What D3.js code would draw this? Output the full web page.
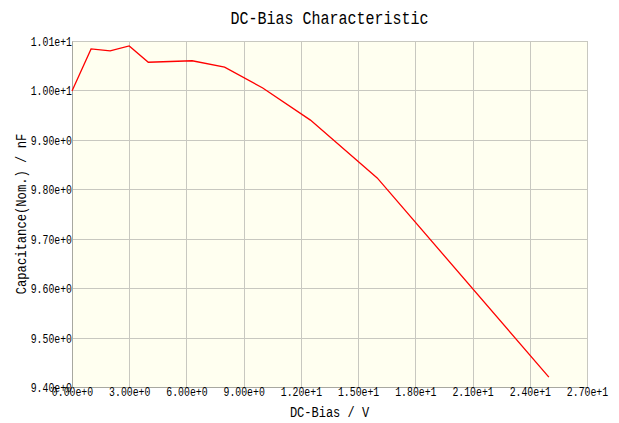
<!DOCTYPE html>
<html>
<head>
<meta charset="utf-8">
<script src="https://cdn.jsdelivr.net/npm/d3@7"></script>
<style>
  body { margin: 0; background: #ffffff; }
  text { font-family: "Liberation Mono", "DejaVu Sans Mono", monospace; fill: #000; }
</style>
</head>
<body>
<svg id="chart"></svg>
<script>
// DC bias (V) vs capacitance (nF)
const biasV = [0, 1, 2, 3, 4, 6.3, 8, 10, 12.5, 16, 25];
const capNF = [9.999, 10.084, 10.080, 10.090, 10.057, 10.060, 10.047, 10.005, 9.940, 9.823, 9.420];
const xTicks = [0, 3, 6, 9, 12, 15, 18, 21, 24, 27];
const yTicks = [9.4, 9.5, 9.6, 9.7, 9.8, 9.9, 10.0, 10.1];

const width = 619, height = 423;
const margin = {top: 41, right: 32, bottom: 36, left: 72};
const innerW = width - margin.left - margin.right;
const innerH = height - margin.top - margin.bottom;

// squeeze monospace text into narrow cells like the original gothic font
function halfWidth(sel, size, cell) {
  sel.each(function() {
    const t = d3.select(this);
    const n = t.text().length;
    t.attr('font-size', size)
     .attr('textLength', n * (cell || size * 0.5))
     .attr('lengthAdjust', 'spacingAndGlyphs');
  });
}

const svg = d3.select('#chart').attr('width', width).attr('height', height);
const chart = svg.append('g').attr('transform', `translate(${margin.left},${margin.top})`);

const xscale = d3.scaleLinear().domain([0, 27]).range([0, innerW]);
const yscale = d3.scaleLinear().domain([9.4, 10.1]).range([innerH, 0]);

chart.append('rect')
  .attr('width', innerW).attr('height', innerH)
  .attr('fill', '#fffff0');

// grid
chart.append('g').selectAll('line').data(xTicks).join('line')
  .attr('x1', d => Math.round(xscale(d)) + 0.5).attr('x2', d => Math.round(xscale(d)) + 0.5)
  .attr('y1', 0).attr('y2', innerH)
  .attr('stroke', '#c8c8c0').attr('stroke-width', 1);
chart.append('g').selectAll('line').data(yTicks).join('line')
  .attr('y1', d => Math.round(yscale(d)) + 0.5).attr('y2', d => Math.round(yscale(d)) + 0.5)
  .attr('x1', 0).attr('x2', innerW)
  .attr('stroke', '#c8c8c0').attr('stroke-width', 1);

// axes
const xaxis = d3.axisBottom(xscale).tickValues(xTicks).tickSize(0).tickPadding(4)
  .tickFormat(d => d.toExponential(2));
const yaxis = d3.axisLeft(yscale).tickValues(yTicks).tickSize(0).tickPadding(0)
  .tickFormat(d => d.toExponential(2));

const xg = chart.append('g').attr('transform', `translate(0,${innerH})`).call(xaxis);
const yg = chart.append('g').call(yaxis);
[xg, yg].forEach(g => {
  g.select('.domain').attr('stroke', '#a8a8a0');
  g.selectAll('text').call(halfWidth, 13, 5.9);
});
xg.selectAll('text').attr('dy', '0.4em');
yg.selectAll('text').attr('dy', '0.35em');

// curve
const line = d3.line()
  .x(d => xscale(d[0]))
  .y(d => yscale(d[1]));
chart.append('path')
  .attr('d', line(d3.zip(biasV, capNF)))
  .attr('fill', 'none')
  .attr('stroke', '#ff0000')
  .attr('stroke-width', 1.3);

// titles
svg.append('text')
  .attr('x', margin.left + innerW / 2).attr('y', 24)
  .attr('text-anchor', 'middle')
  .text('DC-Bias Characteristic')
  .call(halfWidth, 19, 9);

svg.append('text')
  .attr('x', margin.left + innerW / 2).attr('y', 417)
  .attr('text-anchor', 'middle')
  .text('DC-Bias / V')
  .call(halfWidth, 15.5, 7.2);

svg.append('text')
  .attr('transform', `translate(26,${margin.top + innerH / 2}) rotate(-90)`)
  .attr('text-anchor', 'middle')
  .text('Capacitance(Nom.) / nF')
  .call(halfWidth, 15.5, 7.3);
</script>
</body>
</html>
